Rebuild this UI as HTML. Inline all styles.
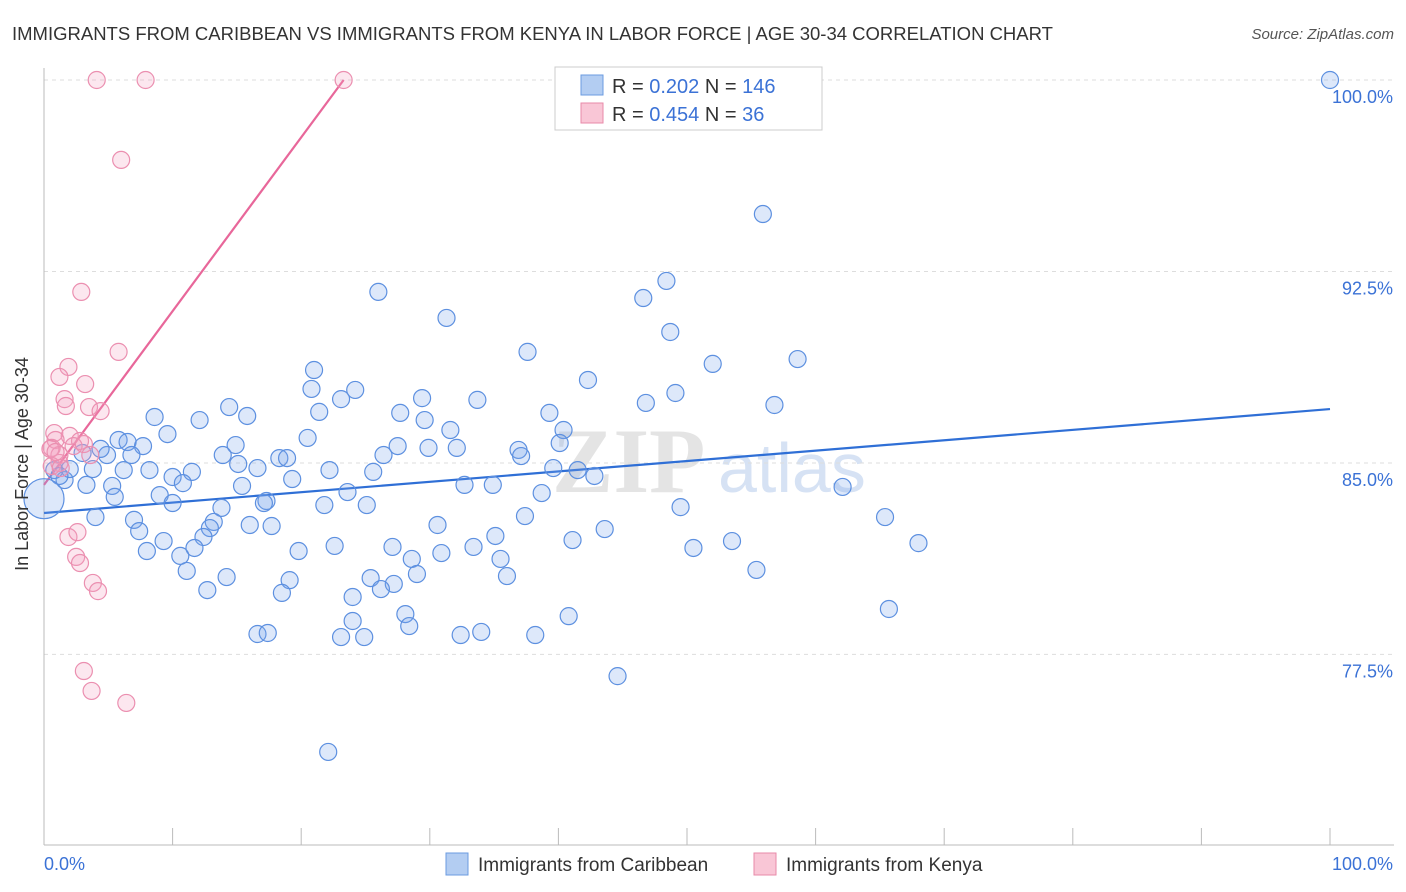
<!DOCTYPE html>
<html><head><meta charset="utf-8">
<style>
body{margin:0;background:#fff;font-family:"Liberation Sans",sans-serif;}
svg{display:block}
</style></head>
<body>
<svg id="chart" width="1406" height="892" viewBox="0 0 1406 892">
<text x="12" y="40" font-size="18.5" fill="#333">IMMIGRANTS FROM CARIBBEAN VS IMMIGRANTS FROM KENYA IN LABOR FORCE | AGE 30-34 CORRELATION CHART</text>
<text x="1394" y="39" font-size="15" fill="#555" font-style="italic" text-anchor="end">Source: ZipAtlas.com</text>
<g>
<text x="552" y="492" font-size="92" font-family="Liberation Serif,serif" font-weight="bold" fill="#e4e4e4">ZIP</text>
<text x="718" y="492" font-size="70" fill="#d6e2f4">atlas</text>
</g>
<g id="grid"></g>
<g id="axes"></g>
<g id="trends"></g>
<g id="points"></g>
<text x="22" y="458" font-size="18" fill="#333" text-anchor="middle" transform="rotate(-90 28 458)">In Labor Force | Age 30-34</text>
<g>
<rect x="555" y="67" width="267" height="63" fill="#fff" stroke="#ccc"/>
<rect x="581" y="75" width="22" height="20" fill="#b3cdf2" stroke="#6b9be0"/>
<text x="612" y="93" font-size="20" fill="#333">R = <tspan fill="#3b72d6">0.202</tspan>   N = <tspan fill="#3b72d6">146</tspan></text>
<rect x="581" y="103" width="22" height="20" fill="#f9c6d6" stroke="#e88aa8"/>
<text x="612" y="121" font-size="20" fill="#333">R = <tspan fill="#3b72d6">0.454</tspan>   N =   <tspan fill="#3b72d6">36</tspan></text>
</g>
<g>
<rect x="446" y="853" width="22" height="22" fill="#b3cdf2" stroke="#6b9be0"/>
<text x="478" y="871" font-size="19" fill="#333">Immigrants from Caribbean</text>
<rect x="754" y="853" width="22" height="22" fill="#f9c6d6" stroke="#e88aa8"/>
<text x="786" y="871" font-size="19" fill="#333">Immigrants from Kenya</text>
</g>
</svg>
<script>
const yTicks=[100,92.5,85,77.5];
const yTickLabels=["100.0%","92.5%","85.0%","77.5%"];
const xTicks=[0,10,20,30,40,50,60,70,80,90,100];
const blueX=[100,55.9,48.4,46.6,26.0,31.3,48.7,37.6,52.0,58.6,21.0,42.3,20.8,24.2,29.4,23.1,33.7,49.1,46.8,56.8,14.4,21.4,27.7,15.8,8.6,39.3,12.1,29.6,9.6,31.6,40.4,20.5,5.8,6.5,7.7,14.9,27.5,29.9,32.1,36.9,40.1,3.0,4.9,6.8,13.9,18.3,18.9,26.4,37.1,15.1,8.2,11.5,16.6,6.2,22.2,25.6,39.6,41.5,42.8,19.3,10.0,10.8,1.6,3.3,5.3,15.4,32.7,34.9,23.6,38.7,62.1,9.0,5.5,10.0,17.3,17.1,21.8,25.1,13.8,49.5,4.0,7.0,13.2,37.4,65.4,16.0,17.7,30.6,43.6,7.4,12.9,12.4,35.1,9.3,53.5,68.0,41.1,8.0,11.7,19.8,22.6,27.1,30.9,33.4,50.5,10.6,35.5,28.6,11.1,55.4,14.2,25.4,19.1,36.0,27.2,26.2,29.0,12.7,18.5,24.0,28.1,40.8,65.7,24.0,28.4,16.6,17.4,23.1,24.9,32.4,34.0,38.2,44.6,22.1,4.4,3.8,2.0,0.8,1.2];
const blueY=[100,94.75,92.13,91.46,91.70,90.68,90.13,89.35,88.88,89.07,88.64,88.25,87.90,87.86,87.54,87.50,87.47,87.74,87.35,87.27,87.19,87.00,86.96,86.84,86.80,86.96,86.68,86.68,86.13,86.29,86.29,85.98,85.90,85.82,85.66,85.70,85.66,85.59,85.59,85.51,85.78,85.39,85.31,85.31,85.31,85.19,85.19,85.31,85.27,84.96,84.72,84.65,84.80,84.72,84.72,84.65,84.80,84.72,84.49,84.37,84.45,84.21,84.33,84.14,84.10,84.10,84.14,84.14,83.86,83.82,84.06,83.74,83.67,83.43,83.51,83.43,83.35,83.35,83.24,83.27,82.88,82.77,82.69,82.92,82.88,82.57,82.53,82.57,82.41,82.33,82.45,82.10,82.14,81.94,81.94,81.86,81.98,81.55,81.67,81.55,81.75,81.71,81.47,81.71,81.67,81.36,81.24,81.24,80.77,80.81,80.53,80.49,80.41,80.57,80.26,80.06,80.65,80.02,79.91,79.75,79.08,79.00,79.28,78.81,78.61,78.30,78.34,78.18,78.18,78.26,78.38,78.26,76.65,73.68,85.55,84.76,84.76,84.72,84.49];
const pinkX=[4.1,7.9,23.3,6.0,2.9,5.8,1.9,1.2,3.2,1.6,1.7,3.5,4.4,0.8,2.0,2.8,0.9,0.6,1.2,2.3,3.1,3.6,1.2,0.6,1.3,1.9,2.6,2.5,2.8,3.8,4.2,3.1,3.7,6.4,0.5,0.9];
const pinkY=[100,100,100,96.87,91.70,89.35,88.76,88.37,88.09,87.50,87.23,87.19,87.03,86.17,86.06,85.86,85.90,85.59,85.31,85.66,85.74,85.31,85.0,84.88,84.80,82.10,82.29,81.32,81.08,80.30,79.98,76.85,76.07,75.60,85.55,85.43];
const blueTrendX=[0,100], blueTrendY=[83.04,87.11];
const pinkTrendX=[0,23.3], pinkTrendY=[84.14,100];

const NS="http://www.w3.org/2000/svg";
const X0=44,X1=1330,YT=80,PXPER=25.53;
const xs=v=>X0+(X1-X0)*v/100;
const ys=v=>YT+(100-v)*PXPER;
function mk(tag,attrs,parent){const e=document.createElementNS(NS,tag);for(const k in attrs)e.setAttribute(k,attrs[k]);parent.appendChild(e);return e;}
const grid=document.getElementById('grid'),axes=document.getElementById('axes');
yTicks.forEach((t,i)=>{
 const l=mk('line',{x1:X0,x2:1394,y1:ys(t),y2:ys(t),stroke:'#ddd','stroke-dasharray':'4,4'},grid);
 
 
 const tx=mk('text',{x:1393,y:ys(t)+23,'font-size':18,fill:'#3b72d6','text-anchor':'end'},axes);
 tx.textContent=yTickLabels[i];
 
 
});
const ax=mk('line',{x1:X0,x2:X0,y1:68,y2:845,stroke:'#bbb'},axes);


const bx=mk('line',{x1:X0,x2:1394,y1:845,y2:845,stroke:'#bbb'},axes);


xTicks.forEach(t=>{
 const l=mk('line',{x1:xs(t),x2:xs(t),y1:828,y2:845,stroke:'#bbb'},axes);
 
 
});
const xl0=mk('text',{x:44,y:870,'font-size':18,fill:'#3b72d6'},axes);xl0.textContent='0.0%';


const xl1=mk('text',{x:1393,y:870,'font-size':18,fill:'#3b72d6','text-anchor':'end'},axes);xl1.textContent='100.0%';



const pts=document.getElementById('points');
blueX.forEach((v,i)=>{
 const c=mk('circle',{cx:xs(v),cy:ys(blueY[i]),r:8.5,fill:'rgba(120,165,235,0.25)',stroke:'#5d90e0','stroke-width':1.2},pts);
 
 
});
const big=mk('circle',{cx:xs(0),cy:ys(83.6),r:20,fill:'rgba(120,165,235,0.25)',stroke:'#5d90e0','stroke-width':1.2},pts);


pinkX.forEach((v,i)=>{
 const c=mk('circle',{cx:xs(v),cy:ys(pinkY[i]),r:8.5,fill:'rgba(245,160,190,0.25)',stroke:'#eb8fb0','stroke-width':1.2},pts);
 
 
});
const tr=document.getElementById('trends');
const bt=mk('line',{x1:xs(blueTrendX[0]),y1:ys(blueTrendY[0]),x2:xs(blueTrendX[1]),y2:ys(blueTrendY[1]),stroke:'#2f6fd6','stroke-width':2.2},tr);


const pt=mk('line',{x1:xs(pinkTrendX[0]),y1:ys(pinkTrendY[0]),x2:xs(pinkTrendX[1]),y2:ys(pinkTrendY[1]),stroke:'#e8679a','stroke-width':2.2},tr);


</script>
</body></html>
